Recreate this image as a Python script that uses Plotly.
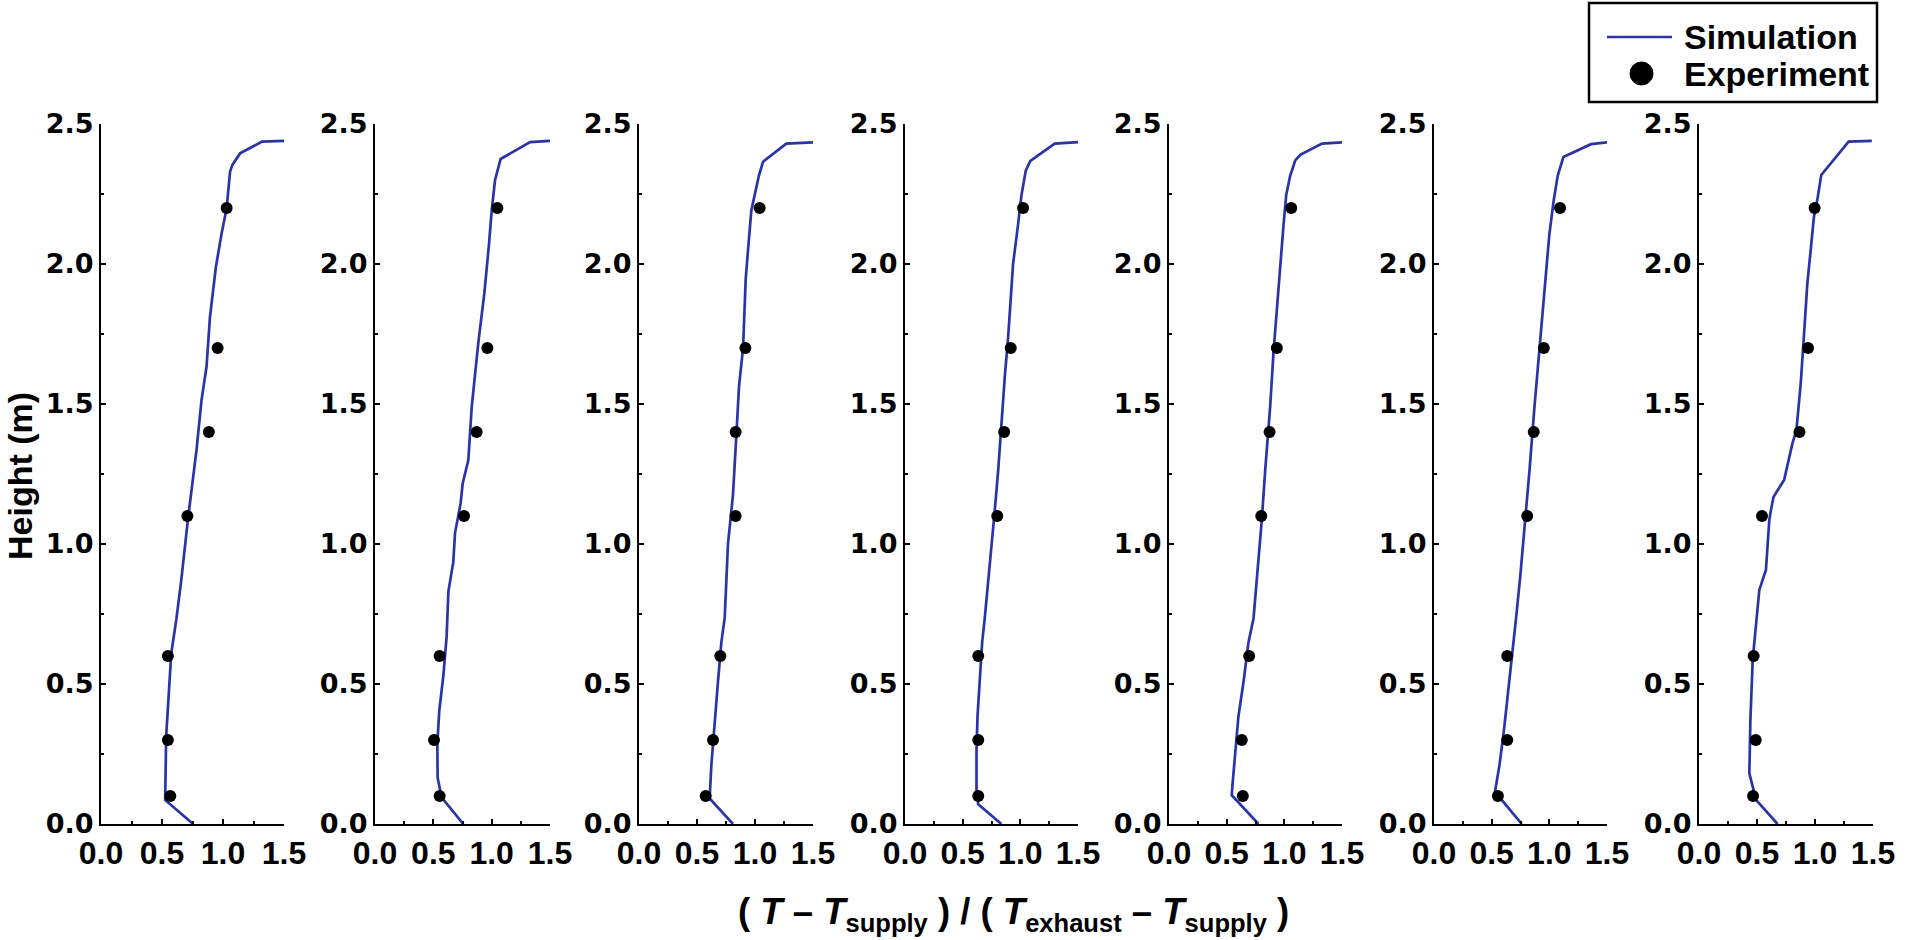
import plotly.graph_objects as go

W, H = 1905, 940

# ---------------- data ----------------
exp_heights = [0.1, 0.3, 0.6, 1.1, 1.4, 1.7, 2.2]

exp_p1 = [0.568, 0.548, 0.548, 0.708, 0.884, 0.956, 1.030]
exp_p2 = [0.554, 0.506, 0.554, 0.763, 0.871, 0.963, 1.049]
exp_p3 = [0.575, 0.638, 0.701, 0.833, 0.833, 0.917, 1.040]
exp_p4 = [0.635, 0.635, 0.635, 0.800, 0.860, 0.917, 1.024]
exp_p5 = [0.640, 0.631, 0.695, 0.800, 0.872, 0.935, 1.060]
exp_p6 = [0.554, 0.635, 0.635, 0.808, 0.865, 0.952, 1.093]
exp_p7 = [0.466, 0.489, 0.471, 0.543, 0.866, 0.940, 0.997]

sim_x_p1 = [0.755, 0.526, 0.534, 0.556, 0.576, 0.617, 0.658, 0.713, 0.749, 0.783, 0.824,
            0.865, 0.893, 0.942, 0.989, 1.030, 1.058, 1.077, 1.140, 1.320, 1.510]
sim_h_p1 = [0.0, 0.086, 0.312, 0.467, 0.610, 0.729, 0.871, 1.090, 1.217, 1.336, 1.514,
            1.633, 1.810, 1.990, 2.110, 2.200, 2.330, 2.354, 2.395, 2.437, 2.440]

sim_x_p2 = [0.757, 0.671, 0.571, 0.537, 0.534, 0.551, 0.586, 0.614, 0.629, 0.671, 0.686,
            0.734, 0.751, 0.800, 0.829, 0.886, 0.937, 0.977, 1.000, 1.029, 1.077, 1.329, 1.500]
sim_h_p2 = [0.0, 0.045, 0.095, 0.165, 0.285, 0.405, 0.530, 0.670, 0.830, 0.935, 1.040,
            1.145, 1.215, 1.300, 1.490, 1.720, 1.895, 2.070, 2.190, 2.300, 2.375, 2.435, 2.440]

sim_x_p3 = [0.810, 0.652, 0.609, 0.624, 0.652, 0.681, 0.710, 0.739, 0.767, 0.810, 0.839,
            0.862, 0.897, 0.920, 0.940, 0.968, 0.997, 1.034, 1.069, 1.270, 1.514]
sim_h_p3 = [0.0, 0.070, 0.091, 0.211, 0.368, 0.509, 0.649, 0.737, 1.000, 1.175, 1.386,
            1.561, 1.700, 1.947, 2.050, 2.190, 2.246, 2.316, 2.365, 2.430, 2.435]

sim_x_p4 = [0.836, 0.635, 0.620, 0.620, 0.629, 0.649, 0.669, 0.692, 0.721, 0.750, 0.779,
            0.808, 0.836, 0.865, 0.894, 0.914, 0.937, 0.980, 1.010, 1.047, 1.087, 1.298, 1.500]
sim_h_p4 = [0.0, 0.070, 0.123, 0.263, 0.386, 0.509, 0.649, 0.737, 0.860, 1.000, 1.123,
            1.263, 1.439, 1.596, 1.737, 1.877, 2.000, 2.140, 2.246, 2.333, 2.368, 2.430, 2.435]

sim_x_p5 = [0.776, 0.544, 0.550, 0.573, 0.602, 0.646, 0.689, 0.733, 0.770, 0.805, 0.834,
            0.877, 0.906, 0.935, 0.964, 0.993, 1.016, 1.051, 1.095, 1.138, 1.326, 1.515]
sim_h_p5 = [0.0, 0.103, 0.138, 0.261, 0.384, 0.507, 0.648, 0.735, 0.910, 1.088, 1.263,
            1.490, 1.684, 1.842, 2.000, 2.140, 2.246, 2.316, 2.370, 2.390, 2.430, 2.435]

sim_x_p6 = [0.761, 0.583, 0.525, 0.568, 0.606, 0.640, 0.678, 0.712, 0.750, 0.785, 0.828,
            0.871, 0.914, 0.958, 1.000, 1.038, 1.073, 1.122, 1.361, 1.506]
sim_h_p6 = [0.0, 0.088, 0.105, 0.211, 0.333, 0.456, 0.596, 0.737, 0.894, 1.052, 1.263,
            1.490, 1.702, 1.912, 2.105, 2.228, 2.316, 2.382, 2.428, 2.435]

sim_x_p7 = [0.677, 0.492, 0.434, 0.443, 0.463, 0.492, 0.520, 0.577, 0.606, 0.620, 0.643,
            0.734, 0.806, 0.840, 0.877, 0.906, 0.934, 0.963, 0.991, 1.020, 1.054, 1.290, 1.490]
sim_h_p7 = [0.0, 0.086, 0.181, 0.371, 0.586, 0.729, 0.836, 0.907, 1.086, 1.121, 1.169,
            1.229, 1.360, 1.407, 1.574, 1.752, 1.931, 2.050, 2.169, 2.229, 2.318, 2.437, 2.440]

x_tick_vals = [0.0, 0.5, 1.0, 1.5]
x_tick_text = ["0.0", "0.5", "1.0", "1.5"]
y_tick_vals = [0.0, 0.5, 1.0, 1.5, 2.0, 2.5]
y_tick_text = ["0.0", "0.5", "1.0", "1.5", "2.0", "2.5"]

legend_labels = ["Simulation", "Experiment"]
x_title = ("( <i>T</i> – <i>T</i><sub>supply</sub> ) / "
           "( <i>T</i><sub>exhaust</sub> – <i>T</i><sub>supply</sub> )")
y_title = "Height (m)"

exp_sets = [exp_p1, exp_p2, exp_p3, exp_p4, exp_p5, exp_p6, exp_p7]
sim_sets = [(sim_x_p1, sim_h_p1), (sim_x_p2, sim_h_p2), (sim_x_p3, sim_h_p3),
            (sim_x_p4, sim_h_p4), (sim_x_p5, sim_h_p5), (sim_x_p6, sim_h_p6),
            (sim_x_p7, sim_h_p7)]

# ---------------- layout geometry (pixels) ----------------
panel_px = [(101, 284), (375, 550), (639, 813), (905, 1078),
            (1169, 1342), (1434, 1607), (1699, 1873)]
top_px, bot_px = 124, 824

LINE_COLOR = "#2A35A5"


def px(x):
    return x / W


def py(y):
    return 1 - y / H


fig = go.Figure()
layout = dict(
    width=W, height=H,
    margin=dict(l=0, r=0, t=0, b=0, autoexpand=False),
    paper_bgcolor="white", plot_bgcolor="white",
    showlegend=False,
)

for i, ((xs, hs), ex) in enumerate(zip(sim_sets, exp_sets)):
    n = i + 1
    xa = "x" if n == 1 else f"x{n}"
    ya = "y" if n == 1 else f"y{n}"
    fig.add_trace(go.Scatter(x=xs, y=hs, mode="lines", xaxis=xa, yaxis=ya,
                             line=dict(color=LINE_COLOR, width=2.7),
                             name=legend_labels[0]))
    fig.add_trace(go.Scatter(x=ex, y=exp_heights, mode="markers", xaxis=xa, yaxis=ya,
                             marker=dict(color="black", size=12, symbol="circle"),
                             name=legend_labels[1]))
    x0, x1 = panel_px[i]
    layout["xaxis" if n == 1 else f"xaxis{n}"] = dict(
        domain=[px(x0), px(x1)], range=[0, 1.5], anchor=ya,
        tickvals=x_tick_vals, ticktext=x_tick_text,
        ticks="inside", ticklen=5, tickwidth=2, tickcolor="black",
        minor=dict(ticks="inside", ticklen=3, tickwidth=2, tickcolor="black", dtick=0.25),
        showline=True, linewidth=2, linecolor="black",
        showgrid=False, zeroline=False,
        tickfont=dict(family="Liberation Sans", size=32, color="black", weight="bold"),
    )
    layout["yaxis" if n == 1 else f"yaxis{n}"] = dict(
        domain=[py(bot_px), py(top_px)], range=[0, 2.5], anchor=xa,
        tickvals=y_tick_vals, ticktext=y_tick_text,
        ticks="inside", ticklen=5, tickwidth=2, tickcolor="black",
        minor=dict(ticks="inside", ticklen=3, tickwidth=2, tickcolor="black", dtick=0.25),
        showline=True, linewidth=2, linecolor="black",
        showgrid=False, zeroline=False,
        tickfont=dict(family="DejaVu Sans", size=27, color="black", weight="bold"),
    )

# manual legend
shapes = [
    dict(type="rect", xref="paper", yref="paper",
         x0=px(1589), x1=px(1877), y0=py(102), y1=py(3),
         line=dict(color="black", width=2.5), fillcolor="white"),
    dict(type="line", xref="paper", yref="paper",
         x0=px(1607), x1=px(1672), y0=py(37), y1=py(37),
         line=dict(color=LINE_COLOR, width=2.5)),
    dict(type="circle", xref="paper", yref="paper",
         x0=px(1630), x1=px(1653), y0=py(85), y1=py(62),
         line=dict(color="black", width=1), fillcolor="black"),
]
annotations = [
    dict(text=legend_labels[0], xref="paper", yref="paper", x=px(1682), y=py(37),
         xanchor="left", yanchor="middle", showarrow=False,
         font=dict(family="Liberation Sans", size=34, color="black", weight="bold")),
    dict(text=legend_labels[1], xref="paper", yref="paper", x=px(1682), y=py(74),
         xanchor="left", yanchor="middle", showarrow=False,
         font=dict(family="Liberation Sans", size=34, color="black", weight="bold")),
    dict(text=x_title, xref="paper", yref="paper", x=px(1014), y=py(914),
         xanchor="center", yanchor="middle", showarrow=False,
         font=dict(family="Liberation Sans", size=36.5, color="black", weight="bold")),
    dict(text=y_title, xref="paper", yref="paper", x=px(20), y=py(476),
         xanchor="center", yanchor="middle", showarrow=False, textangle=-90,
         font=dict(family="Liberation Sans", size=34, color="black", weight="bold")),
]
layout["shapes"] = shapes
layout["annotations"] = annotations
fig.update_layout(**layout)

fig.write_html("out.html", config={"displayModeBar": False},
               post_script="document.body.style.margin='0';")
